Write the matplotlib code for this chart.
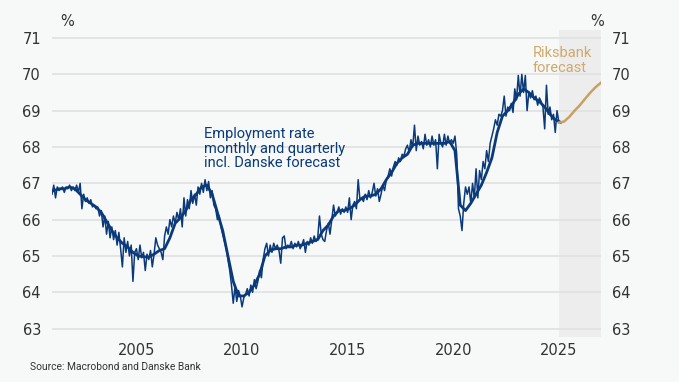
import numpy as np
import matplotlib
matplotlib.use("Agg")
import matplotlib.pyplot as plt

# ---------------- data ----------------
start_year = 2001
monthly_values = [
    # 2001
    66.7, 66.95, 66.6, 66.9, 66.8, 66.85, 66.9, 66.75, 66.9, 66.85, 66.95, 66.8,
    # 2002
    66.9, 66.8, 66.95, 66.75, 67.0, 66.3, 66.7, 66.5, 66.6, 66.45, 66.55, 66.35,
    # 2003
    66.4, 66.3, 66.35, 66.1, 66.25, 65.8, 66.1, 65.6, 65.95, 65.5, 65.8, 65.45,
    # 2004
    65.7, 65.3, 65.65, 65.2, 64.7, 65.5, 65.1, 65.4, 65.0, 65.3, 64.3, 65.1,
    # 2005
    65.2, 64.9, 65.3, 64.95, 65.1, 64.6, 65.05, 64.9, 65.15, 64.7, 65.05, 65.5,
    # 2006
    65.3, 65.2, 65.1, 64.9, 65.55, 65.8, 65.6, 66.0, 65.8, 66.1, 65.9, 66.2,
    # 2007
    66.0, 66.3, 65.8, 66.6, 66.1, 66.55, 66.3, 66.8, 66.45, 66.7, 66.4, 66.9,
    # 2008
    66.7, 67.0, 66.75, 67.1, 66.8, 67.05, 66.6, 66.8, 66.4, 66.3, 66.0, 66.1,
    # 2009
    65.8, 65.6, 65.4, 65.2, 64.9, 64.6, 64.2, 63.7, 64.15, 63.75, 64.05, 63.9,
    # 2010
    63.6, 63.85, 63.95, 64.1, 63.9, 64.2, 64.0, 64.35, 64.1, 64.3, 64.6, 64.4,
    # 2011
    64.9, 65.2, 65.35, 65.0, 65.3, 65.1, 65.35, 65.2, 65.3, 65.15, 64.8, 65.5,
    # 2012
    65.55, 65.2, 65.3, 65.25, 65.4, 65.2, 65.35, 65.25, 65.4, 65.2, 65.3, 65.45,
    # 2013
    65.1, 65.4, 65.3, 65.5, 65.35, 65.55, 65.4, 65.5, 66.1, 65.6, 65.45, 65.4,
    # 2014
    65.7, 65.9, 65.6, 66.0, 66.4, 66.1, 66.2, 66.35, 66.15, 66.3, 66.2, 66.35,
    # 2015
    66.2, 66.6, 66.0, 66.4, 66.5, 66.3, 67.1, 66.55, 66.6, 66.5, 66.7, 66.55,
    # 2016
    66.8, 66.6, 66.75, 67.0, 66.65, 66.85, 66.5, 66.7, 66.95, 66.8, 67.1, 67.2,
    # 2017
    67.4, 67.2, 67.45, 67.6, 67.5, 67.7, 67.6, 67.8, 67.75, 67.95, 68.05, 67.85,
    # 2018
    68.2, 68.0, 68.6, 67.9, 68.3, 68.05, 68.15, 67.95, 68.35, 68.05, 68.2, 68.0,
    # 2019
    68.3, 68.05, 68.2, 67.4, 68.35, 68.1, 68.0, 68.35, 68.05, 68.3, 68.1, 68.2,
    # 2020
    68.1, 68.3, 67.8, 66.3, 66.1, 65.7, 66.45, 66.9, 66.7, 66.9, 66.45, 67.0,
    # 2021
    66.6, 67.4, 66.6, 67.35, 67.1, 67.6, 67.4, 67.9, 67.6, 68.1, 68.3, 68.5,
    # 2022
    68.75, 68.6, 68.9, 68.85, 69.0, 69.4, 68.85, 69.1, 69.0, 69.2, 68.95, 69.6,
    # 2023
    69.3, 69.97, 69.4, 70.0, 69.5, 69.97, 69.0, 69.5, 69.35, 69.55, 69.3, 69.4,
    # 2024
    69.15, 69.35, 69.25, 69.1, 68.5, 69.7, 68.9, 69.1, 68.75, 68.9, 68.4, 69.0,
    # 2025
    68.7,
]

quarterly_values = [
    66.8, 66.85, 66.85, 66.9,    # 2001
    66.85, 66.7, 66.55, 66.45,   # 2002
    66.35, 66.2, 65.95, 65.7,    # 2003
    65.5, 65.35, 65.25, 65.1,    # 2004
    65.0, 64.98, 64.97, 65.05,   # 2005
    65.15, 65.2, 65.5, 65.9,     # 2006
    66.05, 66.25, 66.55, 66.7,   # 2007
    66.9, 66.95, 66.7, 66.2,     # 2008
    65.7, 65.0, 64.3, 63.9,      # 2009
    63.9, 64.0, 64.2, 64.5,      # 2010
    65.0, 65.15, 65.2, 65.2,     # 2011
    65.25, 65.25, 65.3, 65.3,    # 2012
    65.35, 65.4, 65.45, 65.7,    # 2013
    65.85, 66.1, 66.25, 66.25,   # 2014
    66.3, 66.4, 66.55, 66.65,    # 2015
    66.65, 66.7, 66.85, 67.1,    # 2016
    67.3, 67.55, 67.7, 67.8,     # 2017
    68.05, 68.1, 68.1, 68.1,     # 2018
    68.1, 68.1, 68.1, 68.15,     # 2019
    67.9, 66.4, 66.25, 66.45,    # 2020
    66.7, 66.95, 67.3, 67.7,     # 2021
    68.4, 68.85, 69.0, 69.2,     # 2022
    69.45, 69.6, 69.5, 69.35,    # 2023
    69.25, 69.1, 68.9, 68.75,    # 2024
    68.68,                       # 2025Q1
]

forecast_time = [2025.0, 2025.25, 2025.5, 2025.75, 2026.0, 2026.25, 2026.5, 2026.75, 2027.0]
forecast_values = [68.67, 68.70, 68.83, 69.0, 69.15, 69.33, 69.5, 69.65, 69.77]

x_ticks = [2005, 2010, 2015, 2020, 2025]
y_ticks = [63, 64, 65, 66, 67, 68, 69, 70, 71]

# ---------------- style ----------------
BG = "#f7f8f8"
SHADE = "#ededed"
GRID = "#e1e2e2"
NAVY = "#0b3a7a"
GOLD = "#c9a062"
GOLD_TXT = "#d0aa6c"
TXT = "#333333"

plt.rcParams['font.family'] = ['DejaVu Sans']

fig = plt.figure(figsize=(6.79, 3.82), dpi=100, facecolor=BG)
ax = fig.add_axes([52/679, 1-337/382, (601-52)/679, (337-30)/382])
ax.set_facecolor(BG)

mt = start_year + np.arange(len(monthly_values)) / 12.0
qt = start_year + np.arange(len(quarterly_values)) / 4.0 + 1/12.0

ax.set_xlim(2001.0, 2027.0)
ax.set_ylim(62.77, 71.22)

ax.axvspan(2025.0, 2027.0, color=SHADE, zorder=0, lw=0)
for y in y_ticks:
    ax.axhline(y, color=GRID, lw=1.3, zorder=1)

ax.plot(mt, monthly_values, color=NAVY, lw=1.1, zorder=3, solid_joinstyle='round')
ax.plot(qt, quarterly_values, color=NAVY, lw=2.0, zorder=4, solid_joinstyle='round')
ax.plot(forecast_time, forecast_values, color=GOLD, lw=1.8, zorder=4)

for s in ax.spines.values():
    s.set_visible(False)

ax.set_xticks(x_ticks)
ax.set_xticklabels([str(v) for v in x_ticks])
ax.set_yticks(y_ticks)
ax.set_yticklabels([str(v) for v in y_ticks])
ax.tick_params(axis='both', length=0, labelsize=10.5, labelcolor=TXT)
ax.tick_params(axis='x', pad=4)
ax.tick_params(axis='y', pad=8, labelleft=True, labelright=True)

fig.text(60/679, 1-21/382, "%", ha='left', va='center', fontsize=10.5, color=TXT)
fig.text(597/679, 1-21/382, "%", ha='center', va='center', fontsize=10.5, color=TXT)

ax.text(2008.2, 68.55, "Employment rate\nmonthly and quarterly\nincl. Danske forecast",
        ha='left', va='top', fontsize=10.5, color=NAVY, linespacing=1.05,
        family=['Roboto', 'DejaVu Sans'])
ax.text(2023.75, 70.78, "Riksbank\nforecast", ha='left', va='top', fontsize=10.5,
        color=GOLD_TXT, linespacing=1.05, family=['Roboto', 'DejaVu Sans'])

fig.text(30/679, 1-367/382, "Source: Macrobond and Danske Bank", ha='left', va='center',
         fontsize=7.4, color=TXT, family=['Roboto', 'DejaVu Sans'])

fig.savefig("out.png", dpi=100, facecolor=BG)
